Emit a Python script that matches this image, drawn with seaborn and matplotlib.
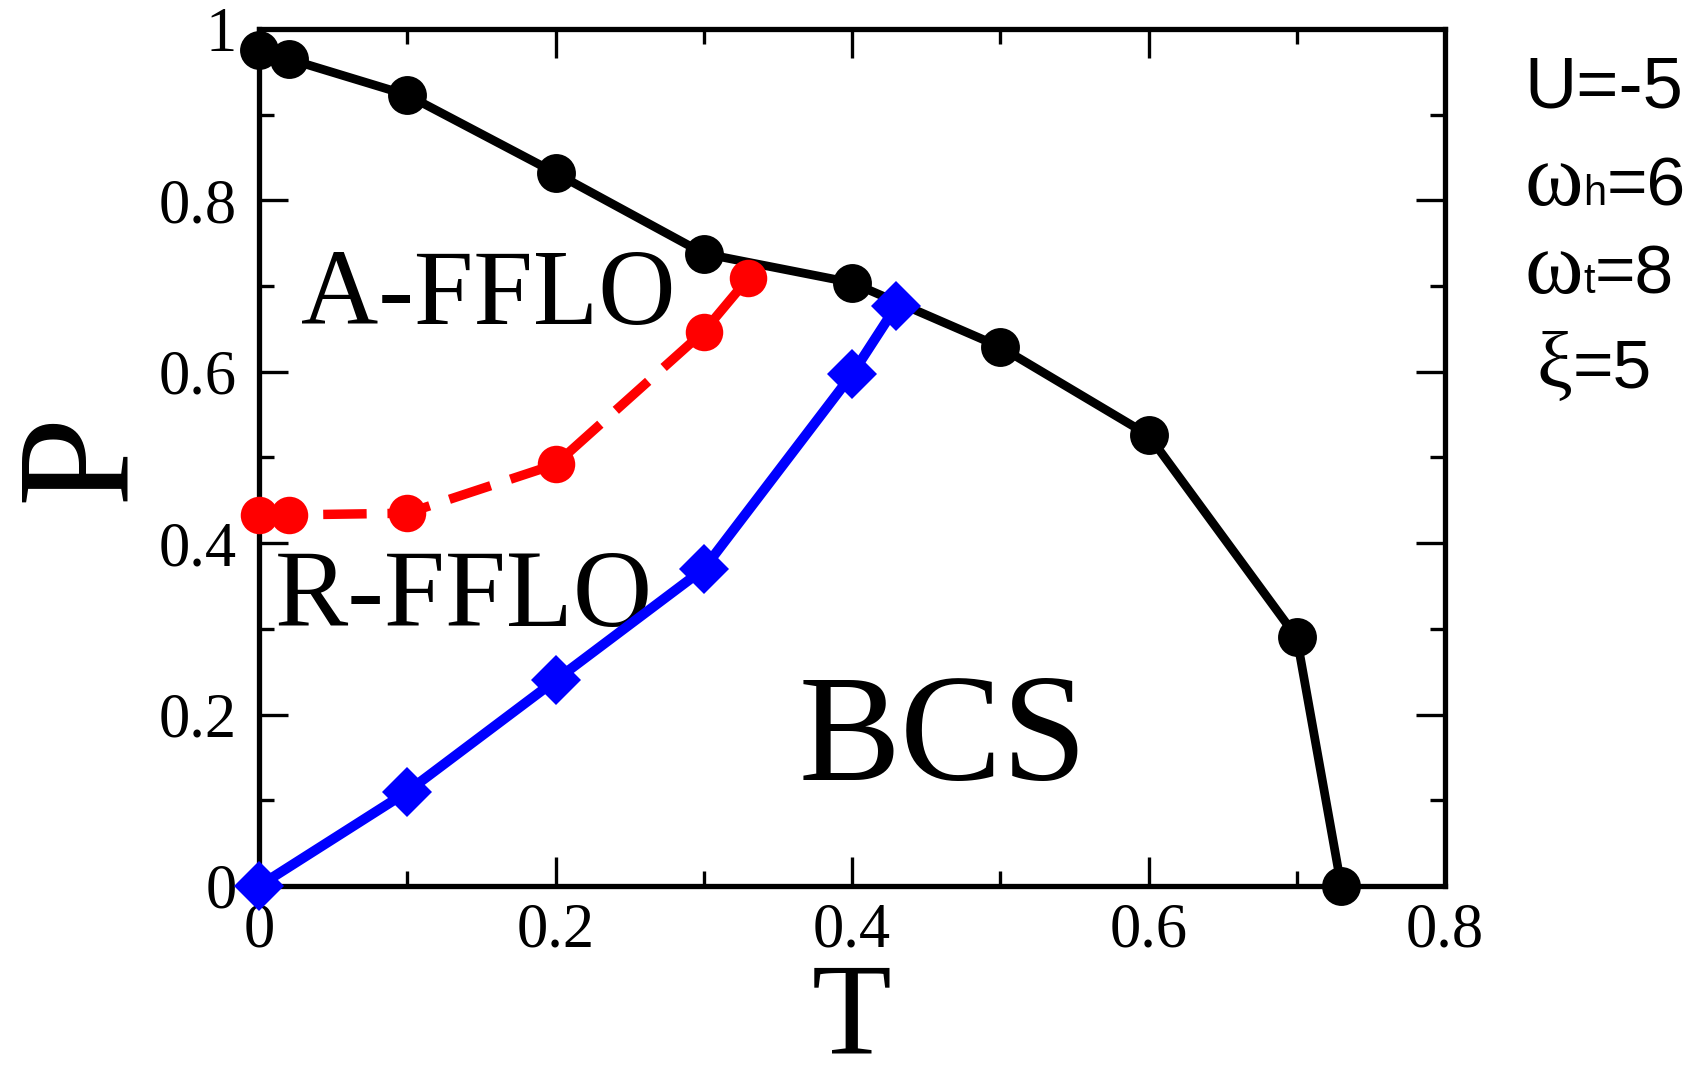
"""Phase diagram P vs T: BCS / A-FFLO / R-FFLO boundaries."""
import matplotlib
matplotlib.use("Agg")
import matplotlib.pyplot as plt
import pandas as pd
import seaborn as sns
from matplotlib.ticker import MultipleLocator

# boundary BCS / normal (black)
T_BCS = [0.0, 0.02, 0.1, 0.2, 0.3, 0.4, 0.5, 0.6, 0.7, 0.73]
P_BCS = [0.975, 0.965, 0.923, 0.832, 0.738, 0.704, 0.629, 0.526, 0.29, 0.0]
# boundary A-FFLO / R-FFLO (red, dashed)
T_AR = [0.0, 0.02, 0.1, 0.2, 0.3, 0.33]
P_AR = [0.433, 0.433, 0.435, 0.492, 0.647, 0.709]
# boundary R-FFLO / BCS (blue)
T_RB = [0.0, 0.1, 0.2, 0.3, 0.4, 0.43]
P_RB = [0.0, 0.11, 0.24, 0.37, 0.597, 0.677]

X_TICKS = [0, 0.2, 0.4, 0.6, 0.8]
X_TICKLABELS = ["0", "0.2", "0.4", "0.6", "0.8"]
Y_TICKS = [0, 0.2, 0.4, 0.6, 0.8, 1.0]
Y_TICKLABELS = ["0", "0.2", "0.4", "0.6", "0.8", "1"]

SERIF = ["Liberation Serif", "DejaVu Serif"]
SANS = ["Liberation Sans", "DejaVu Sans"]


def main() -> None:
    sns.set_style("ticks")
    plt.rcParams["font.family"] = SERIF
    plt.rcParams["text.color"] = "black"
    plt.rcParams["axes.labelcolor"] = "black"

    W, H = 1693, 1087
    fig = plt.figure(figsize=(W / 100, H / 100), dpi=100)
    ax = fig.add_axes([259 / W, 1 - 886 / H, (1445 - 259) / W, (886 - 29) / H])

    bcs = pd.DataFrame({"T": T_BCS, "P": P_BCS})
    ar = pd.DataFrame({"T": T_AR, "P": P_AR})
    rb = pd.DataFrame({"T": T_RB, "P": P_RB})

    sns.lineplot(data=bcs, x="T", y="P", ax=ax, sort=False, color="black",
                 linewidth=6.3, marker="o", markersize=28, markeredgewidth=0,
                 clip_on=False, zorder=3)
    sns.lineplot(data=ar, x="T", y="P", ax=ax, sort=False, color="#ff0000",
                 linewidth=6.8, linestyle=(0, (4.6, 2.2)), marker="o",
                 markersize=27, markeredgewidth=0, clip_on=False, zorder=4)
    sns.lineplot(data=rb, x="T", y="P", ax=ax, sort=False, color="#0000ff",
                 linewidth=7.2, marker="D", markersize=25, markeredgewidth=0,
                 clip_on=False, zorder=5)

    ax.set_xlim(0, 0.8)
    ax.set_ylim(0, 1)
    ax.set_xticks(X_TICKS, X_TICKLABELS)
    ax.set_yticks(Y_TICKS, Y_TICKLABELS)
    ax.xaxis.set_minor_locator(MultipleLocator(0.1))
    ax.yaxis.set_minor_locator(MultipleLocator(0.1))
    ax.tick_params(which="both", direction="in", top=True, right=True,
                   width=2.4, labelsize=45, colors="black")
    ax.tick_params(which="major", length=21)
    ax.tick_params(which="minor", length=11)
    ax.tick_params(axis="x", pad=12)
    ax.tick_params(axis="y", pad=16)
    for s in ax.spines.values():
        s.set_linewidth(3.8)
        s.set_color("black")
        s.set_visible(True)

    ax.set_xlabel("T", fontsize=94, labelpad=1)
    ax.set_ylabel("P", fontsize=116, labelpad=1)

    ax.text(0.028, 0.656, "A-FFLO", fontsize=77, va="baseline")
    ax.text(0.011, 0.303, "R-FFLO", fontsize=79, va="baseline")
    ax.text(0.364, 0.124, "BCS", fontsize=110, va="baseline")

    # parameter list at the right
    ax.annotate("U=-5", xy=(1524, H - 107), xycoords="figure pixels",
                fontsize=52, family=SANS, va="baseline", annotation_clip=False)
    for sub, val, base in [("h", "=6", 205), ("t", "=8", 293)]:
        w = ax.annotate("\u03c9", xy=(1525, H - base), xycoords="figure pixels",
                        fontsize=64, family=SERIF, va="baseline",
                        annotation_clip=False)
        s = ax.annotate(sub, xy=(1, H - base), xycoords=(w, "figure pixels"),
                        fontsize=30, family=SANS, va="baseline",
                        annotation_clip=False)
        ax.annotate(val, xy=(1, H - base), xycoords=(s, "figure pixels"),
                    fontsize=50, family=SANS, va="baseline",
                    annotation_clip=False)
    x = ax.annotate("\u03be", xy=(1537, H - 388), xycoords="figure pixels",
                    fontsize=58, family=SERIF, va="baseline",
                    annotation_clip=False)
    ax.annotate("=5", xy=(1, H - 388), xycoords=(x, "figure pixels"),
                fontsize=50, family=SANS, va="baseline", annotation_clip=False)

    fig.savefig("out.png", dpi=100)
    plt.close(fig)


if __name__ == "__main__":
    main()
